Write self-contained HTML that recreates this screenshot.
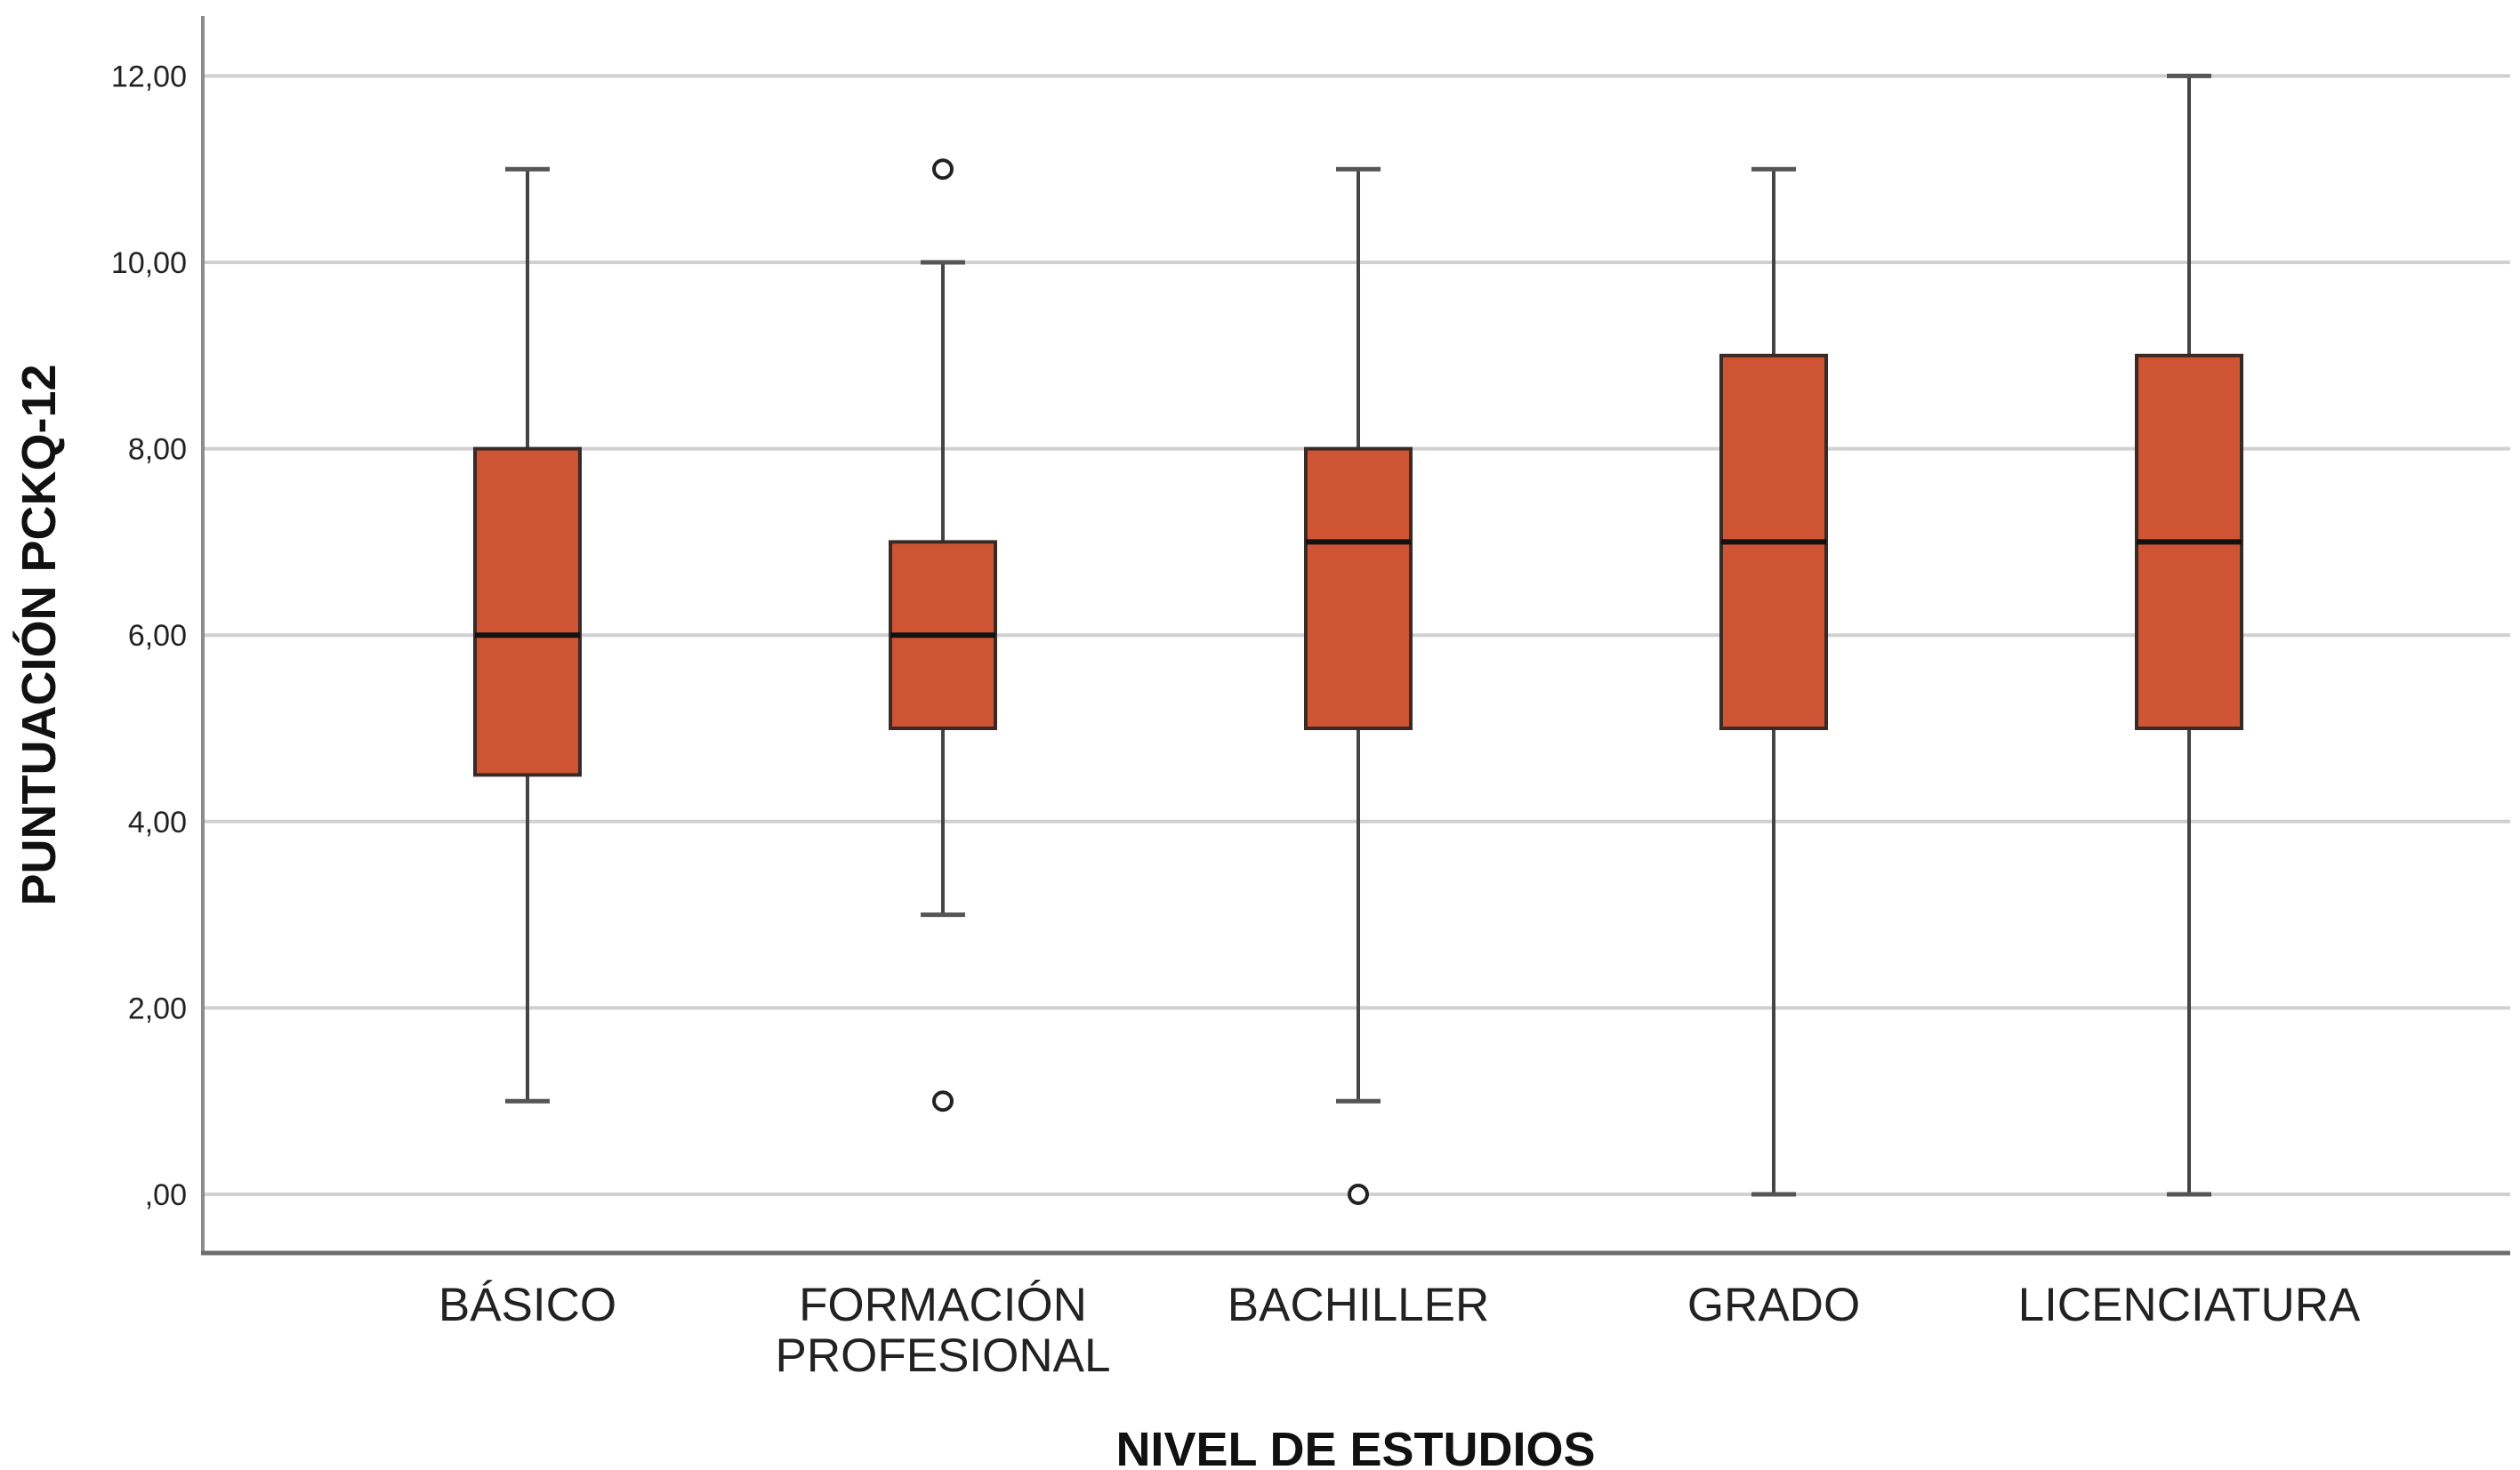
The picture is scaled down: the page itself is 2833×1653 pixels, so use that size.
<!DOCTYPE html>
<html><head><meta charset="utf-8"><style>
html,body{margin:0;padding:0;background:#fff;}
svg{display:block;}
text{font-family:"Liberation Sans",Arial,sans-serif;}
</style></head><body>
<svg id="chart" width="2833" height="1653" viewBox="0 0 2833 1653" xmlns="http://www.w3.org/2000/svg">
<g id="grid"></g>
<g id="yticks"></g>
<g id="boxes"></g>
<g id="xlabels"></g>
<line x1="228" y1="18" x2="228" y2="1410" stroke="#8c8c8c" stroke-width="4"/>
<line x1="226" y1="1409" x2="2822" y2="1409" stroke="#6e6e6e" stroke-width="5"/>
<text x="1524" y="1648" text-anchor="middle" font-size="54" font-weight="bold" fill="#111">NIVEL DE ESTUDIOS</text>
<text transform="translate(62,714) rotate(-90)" text-anchor="middle" font-size="54" font-weight="bold" fill="#111">PUNTUACIÓN PCKQ-12</text>
</svg>
<script>
const categories = [["BÁSICO"],["FORMACIÓN","PROFESIONAL"],["BACHILLER"],["GRADO"],["LICENCIATURA"]];
const mins = [1,3,1,0,0];
const q1s = [4.5,5,5,5,5];
const medians = [6,6,7,7,7];
const q3s = [8,7,8,9,9];
const maxs = [11,10,11,11,12];
const outliers = [[],[11,1],[0],[],[]];
const yTicks = [0,2,4,6,8,10,12];
const yTickLabels = [",00","2,00","4,00","6,00","8,00","10,00","12,00"];

const NS="http://www.w3.org/2000/svg";
const y = v => 1343 - v*104.8;
const x = i => 593 + i*467;
const BW = 118, CW = 50;
function mk(tag, attrs, parent){const e=document.createElementNS(NS,tag);for(const k in attrs)e.setAttribute(k,attrs[k]);parent.appendChild(e);return e;}
const grid=document.getElementById('grid'), yt=document.getElementById('yticks'), boxes=document.getElementById('boxes'), xl=document.getElementById('xlabels');
yTicks.forEach((t,i)=>{
  const l=mk('line',{x1:228,x2:2822,y1:y(t),y2:y(t),stroke:'#d0d0d0','stroke-width':4},grid);
  
  
  const tx=mk('text',{x:210,y:y(t)+12,'text-anchor':'end','font-size':34,fill:'#222'},yt);
  tx.textContent=yTickLabels[i];
  
  
});
categories.forEach((c,i)=>{
  const cx=x(i);
  const g=mk('g',{},boxes);
  
  
  const w=mk('line',{x1:cx,x2:cx,y1:y(maxs[i]),y2:y(mins[i]),stroke:'#444','stroke-width':4},g);
  
  
  [maxs[i],mins[i]].forEach(v=>{
    const cap=mk('line',{x1:cx-CW/2,x2:cx+CW/2,y1:y(v),y2:y(v),stroke:'#555','stroke-width':5},g);
    
    
  });
  const r=mk('rect',{x:cx-BW/2,y:y(q3s[i]),width:BW,height:y(q1s[i])-y(q3s[i]),fill:'#cf5434',stroke:'#3a2a26','stroke-width':4},g);
  
  
  const m=mk('line',{x1:cx-BW/2,x2:cx+BW/2,y1:y(medians[i]),y2:y(medians[i]),stroke:'#111','stroke-width':6},g);
  
  
  outliers[i].forEach(v=>{
    const o=mk('circle',{cx:cx,cy:y(v),r:10,fill:'#fff',stroke:'#222','stroke-width':4},g);
    
    
  });
  c.forEach((line,j)=>{
    const t=mk('text',{x:cx,y:1485+j*57,'text-anchor':'middle','font-size':53,fill:'#222'},xl);
    t.textContent=line;
    
    
  });
});
</script>
</body></html>
